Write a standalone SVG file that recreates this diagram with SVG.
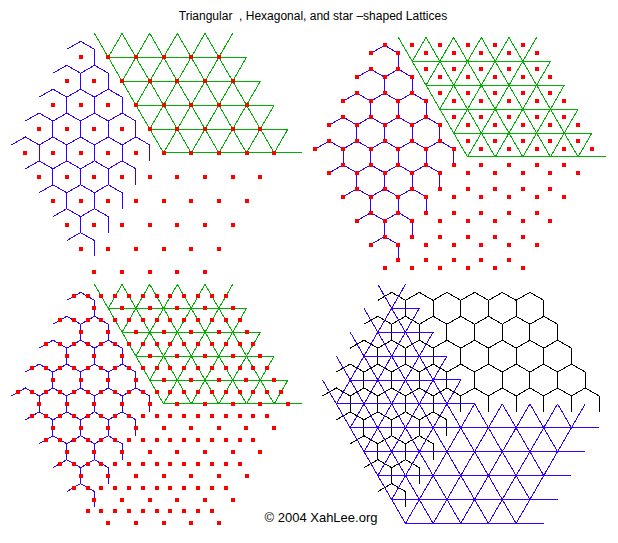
<svg xmlns="http://www.w3.org/2000/svg" width="618" height="543" viewBox="0 0 618 543">
<style>
.ln{fill:none;stroke-width:1;shape-rendering:crispEdges}
.g{stroke:#00b000}
.b{stroke:#3300ff}
.k{stroke:#000000}
.d{fill:#ff0000;stroke:none;shape-rendering:crispEdges}
text{font-family:"Liberation Sans",Arial,sans-serif;fill:#000;white-space:pre}
</style>
<defs>
<path id="tri" d="M0 0H27.65M0 0L-13.825-23.9M0 0L13.825-23.9"/>
<path id="hex" d="M-13.825-7.967L0-15.933L13.825-7.967V7.967"/>
<rect id="dot" x="-2" y="-2" width="4" height="4"/>

<g id="triR"><use href="#tri"/><use href="#tri" x="27.65"/><use href="#tri" x="55.3"/><use href="#tri" x="82.95"/><use href="#tri" x="110.6"/></g>
<g id="triD"><use href="#tri"/><use href="#tri" x="13.825" y="-23.9"/><use href="#tri" x="27.65" y="-47.8"/><use href="#tri" x="41.475" y="-71.7"/><use href="#tri" x="55.3" y="-95.6"/></g>
<g id="triT"><use href="#triR"/><use href="#triR" x="13.825" y="23.9"/><use href="#triR" x="27.65" y="47.8"/><use href="#triR" x="41.475" y="71.7"/><use href="#triR" x="55.3" y="95.6"/></g>
<g id="triH"><use href="#triD" x="-82.95" y="95.6"/><use href="#triD" x="-69.125" y="119.5"/><use href="#triD" x="-55.3" y="143.4"/><use href="#triD" x="-41.475" y="167.3"/><use href="#triD" x="-27.65" y="191.2"/></g>
<g id="triE"><use href="#triR" x="41.475" y="119.5"/><use href="#triR" x="27.65" y="143.4"/><use href="#triR" x="13.825" y="167.3"/><use href="#triR" x="0" y="191.2"/><use href="#triR" x="-13.825" y="215.1"/></g>

<g id="hexR"><use href="#hex"/><use href="#hex" x="27.65"/><use href="#hex" x="55.3"/><use href="#hex" x="82.95"/><use href="#hex" x="110.6"/></g>
<g id="hexD"><use href="#hex"/><use href="#hex" x="13.825" y="-23.9"/><use href="#hex" x="27.65" y="-47.8"/><use href="#hex" x="41.475" y="-71.7"/><use href="#hex" x="55.3" y="-95.6"/></g>
<g id="hexT"><use href="#hexR"/><use href="#hexR" x="13.825" y="23.9"/><use href="#hexR" x="27.65" y="47.8"/><use href="#hexR" x="41.475" y="71.7"/><use href="#hexR" x="55.3" y="95.6"/></g>
<g id="hexH"><use href="#hexD" x="-82.95" y="95.6"/><use href="#hexD" x="-69.125" y="119.5"/><use href="#hexD" x="-55.3" y="143.4"/><use href="#hexD" x="-41.475" y="167.3"/><use href="#hexD" x="-27.65" y="191.2"/></g>

<g id="dotR"><use href="#dot"/><use href="#dot" x="27.65"/><use href="#dot" x="55.3"/><use href="#dot" x="82.95"/><use href="#dot" x="110.6"/></g>
<g id="dotD"><use href="#dot"/><use href="#dot" x="13.825" y="-23.9"/><use href="#dot" x="27.65" y="-47.8"/><use href="#dot" x="41.475" y="-71.7"/><use href="#dot" x="55.3" y="-95.6"/></g>
<g id="dotAll">
<use href="#dotR"/><use href="#dotR" x="13.825" y="23.9"/><use href="#dotR" x="27.65" y="47.8"/><use href="#dotR" x="41.475" y="71.7"/><use href="#dotR" x="55.3" y="95.6"/>
<use href="#dotD" x="-82.95" y="95.6"/><use href="#dotD" x="-69.125" y="119.5"/><use href="#dotD" x="-55.3" y="143.4"/><use href="#dotD" x="-41.475" y="167.3"/><use href="#dotD" x="-27.65" y="191.2"/>
<use href="#dotR" x="41.475" y="119.5"/><use href="#dotR" x="27.65" y="143.4"/><use href="#dotR" x="13.825" y="167.3"/><use href="#dotR" x="0" y="191.2"/><use href="#dotR" x="-13.825" y="215.1"/>
</g>
</defs>

<rect width="618" height="543" fill="#ffffff"/>

<text id="title" x="313" y="20" font-size="12" text-anchor="middle">Triangular  , Hexagonal, and star –shaped Lattices</text>

<g id="q1" transform="translate(108.25,57.3)">
<g id="q1-triangular" class="ln g"><use href="#triT"/></g>
<g id="q1-hexagonal" class="ln b"><use href="#hexH"/></g>
<g id="q1-points" class="d"><use href="#dotAll"/></g>
</g>

<g id="q2" transform="translate(412.2,61.3)">
<g id="q2-triangular" class="ln g"><use href="#triT"/></g>
<g id="q2-hexagonal" class="ln b"><use href="#hexH"/></g>
<g id="q2-points" class="d"><use href="#dotAll" x="-13.825" y="-7.967"/><use href="#dotAll" y="-15.933"/><use href="#dotAll" x="13.825" y="-7.967"/></g>
</g>

<g id="q3" transform="translate(108.25,308.3)">
<g id="q3-triangular" class="ln g"><use href="#triT"/></g>
<g id="q3-hexagonal" class="ln b"><use href="#hexH"/></g>
<g id="q3-points" class="d"><use href="#dotAll" x="-6.9125" y="-11.95"/><use href="#dotAll" x="6.9125" y="-11.95"/><use href="#dotAll" x="13.825" y="0"/></g>
</g>

<g id="q4" transform="translate(419.3,308.3)">
<g id="q4-hexagonal" class="ln k"><use href="#hexH"/><use href="#hexT"/></g>
<g id="q4-triangular" class="ln b"><use href="#triH"/><use href="#triE"/></g>
</g>

<text id="copyright" x="321" y="522" font-size="13" text-anchor="middle">© 2004 XahLee.org</text>
</svg>
